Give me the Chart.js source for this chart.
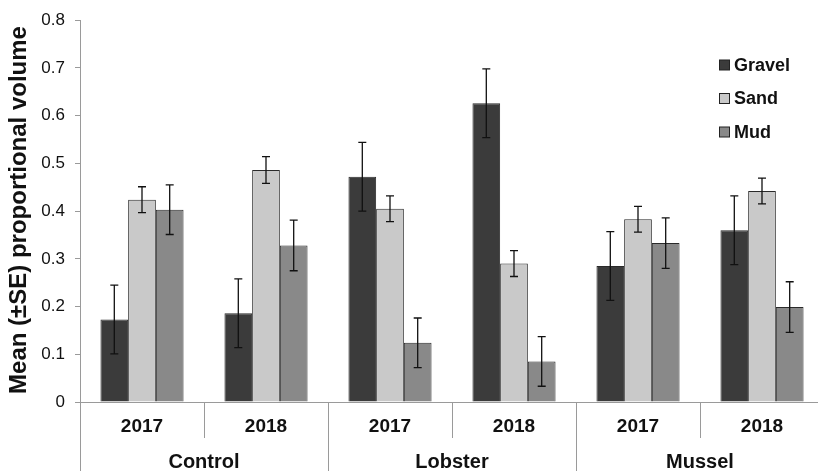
<!DOCTYPE html>
<html>
<head>
<meta charset="utf-8">
<script src="https://cdn.jsdelivr.net/npm/chart.js@4.4.1/dist/chart.umd.min.js"></script>
<style>
  html, body { margin: 0; padding: 0; background: #fff; overflow: hidden; }
  #wrap { position: absolute; left: 0; top: 0; width: 830px; height: 471px; }
</style>
</head>
<body>
<div id="wrap"><canvas id="c" width="830" height="471"></canvas></div>
<script>
// Sediment composition by treatment and year
const years = ['2017', '2018', '2017', '2018', '2017', '2018'];
const groups = ['Control', 'Lobster', 'Mussel'];
const seriesNames = ['Gravel', 'Sand', 'Mud'];

const gravel   = [0.173, 0.186, 0.472, 0.626, 0.285, 0.360];
const sand     = [0.424, 0.486, 0.405, 0.290, 0.383, 0.442];
const mud      = [0.403, 0.328, 0.124, 0.085, 0.333, 0.199];

const gravelSE = [0.072, 0.072, 0.072, 0.072, 0.072, 0.072];
const sandSE   = [0.027, 0.028, 0.027, 0.027, 0.027, 0.027];
const mudSE    = [0.052, 0.053, 0.052, 0.052, 0.053, 0.053];

const yTicks = [0, 0.1, 0.2, 0.3, 0.4, 0.5, 0.6, 0.7, 0.8];

const colors = ['#3b3b3b', '#c9c9c9', '#898989'];
const values = [gravel, sand, mud];
const errors = [gravelSE, sandSE, mudSE];

const FONT = "'Liberation Sans', Arial, sans-serif";
const AXIS = '#9a9a9a';

// Whiskers, category separators, group names, y title and legend
const decor = {
  id: 'decor',
  afterDatasetsDraw(chart) {
    const ctx = chart.ctx;
    const x = chart.scales.x, y = chart.scales.y;
    ctx.save();
    // error bars
    ctx.strokeStyle = '#111';
    ctx.lineWidth = 1.3;
    chart.data.datasets.forEach((ds, di) => {
      const meta = chart.getDatasetMeta(di);
      meta.data.forEach((bar, i) => {
        const v = ds.data[i], e = errors[di][i];
        const yt = y.getPixelForValue(v + e), yb = y.getPixelForValue(v - e);
        const cx = bar.x;
        ctx.beginPath();
        ctx.moveTo(cx, yt); ctx.lineTo(cx, yb);
        ctx.moveTo(cx - 4, yt); ctx.lineTo(cx + 4, yt);
        ctx.moveTo(cx - 4, yb); ctx.lineTo(cx + 4, yb);
        ctx.stroke();
      });
    });
    // separators below the axis
    const base = y.getPixelForValue(0);
    ctx.strokeStyle = AXIS;
    ctx.lineWidth = 1;
    const n = years.length;
    const step = (x.right - x.left) / n;
    for (let k = 0; k <= n; k++) {
      const px = Math.round(x.left + k * step) + 0.5;
      const long = (k % 2 === 0);
      ctx.beginPath();
      ctx.moveTo(px, base);
      ctx.lineTo(px, long ? chart.height : base + 36);
      ctx.stroke();
    }
    // group names
    ctx.fillStyle = '#111';
    ctx.font = 'bold 20px ' + FONT;
    ctx.textAlign = 'center';
    ctx.textBaseline = 'middle';
    groups.forEach((g, gi) => {
      const cx = x.left + (gi * 2 + 1) * step;
      ctx.fillText(g, cx, 462);
    });
    // y-axis title
    ctx.save();
    ctx.translate(19, 210);
    ctx.rotate(-Math.PI / 2);
    ctx.font = 'bold 24px ' + FONT;
    ctx.fillText('Mean (\u00b1SE) proportional volume', 0, 0);
    ctx.restore();
    // legend
    ctx.textAlign = 'left';
    ctx.font = 'bold 18px ' + FONT;
    seriesNames.forEach((name, i) => {
      const cy = 65 + i * 33.5;
      ctx.fillStyle = colors[i];
      ctx.fillRect(719.5, cy - 5, 10, 10);
      ctx.strokeStyle = '#222';
      ctx.strokeRect(719.5, cy - 5, 10, 10);
      ctx.fillStyle = '#111';
      ctx.fillText(name, 734, cy + 1);
    });
    ctx.restore();
  }
};

new Chart(document.getElementById('c'), {
  type: 'bar',
  data: {
    labels: years,
    datasets: seriesNames.map((name, i) => ({
      label: name,
      data: values[i],
      backgroundColor: colors[i],
      borderColor: '#2a2a2a',
      borderWidth: 1,
      categoryPercentage: 0.67,
      barPercentage: 1.0
    }))
  },
  options: {
    responsive: false,
    animation: false,
    layout: { padding: { top: 18, right: 6, bottom: 0, left: 0 } },
    plugins: { legend: { display: false }, tooltip: { enabled: false } },
    scales: {
      x: {
        grid: { display: false, drawTicks: false },
        border: { display: true, color: AXIS, width: 1 },
        ticks: {
          color: '#111',
          font: { family: FONT, size: 19, weight: 'bold' },
          padding: 13,
          maxRotation: 0
        },
        afterFit(s) { s.height = 69; }
      },
      y: {
        min: 0, max: 0.8,
        afterBuildTicks(s) { s.ticks = yTicks.map(v => ({ value: v })); },
        grid: { drawOnChartArea: false, drawTicks: true, tickLength: 5, color: AXIS },
        border: { display: true, color: AXIS, width: 1 },
        ticks: {
          color: '#111',
          font: { family: FONT, size: 17 },
          padding: 10,
          callback: v => (v === 0 ? '0' : v.toFixed(1))
        },
        afterFit(s) { s.width = 80; }
      }
    }
  },
  plugins: [decor]
});
</script>
</body>
</html>
